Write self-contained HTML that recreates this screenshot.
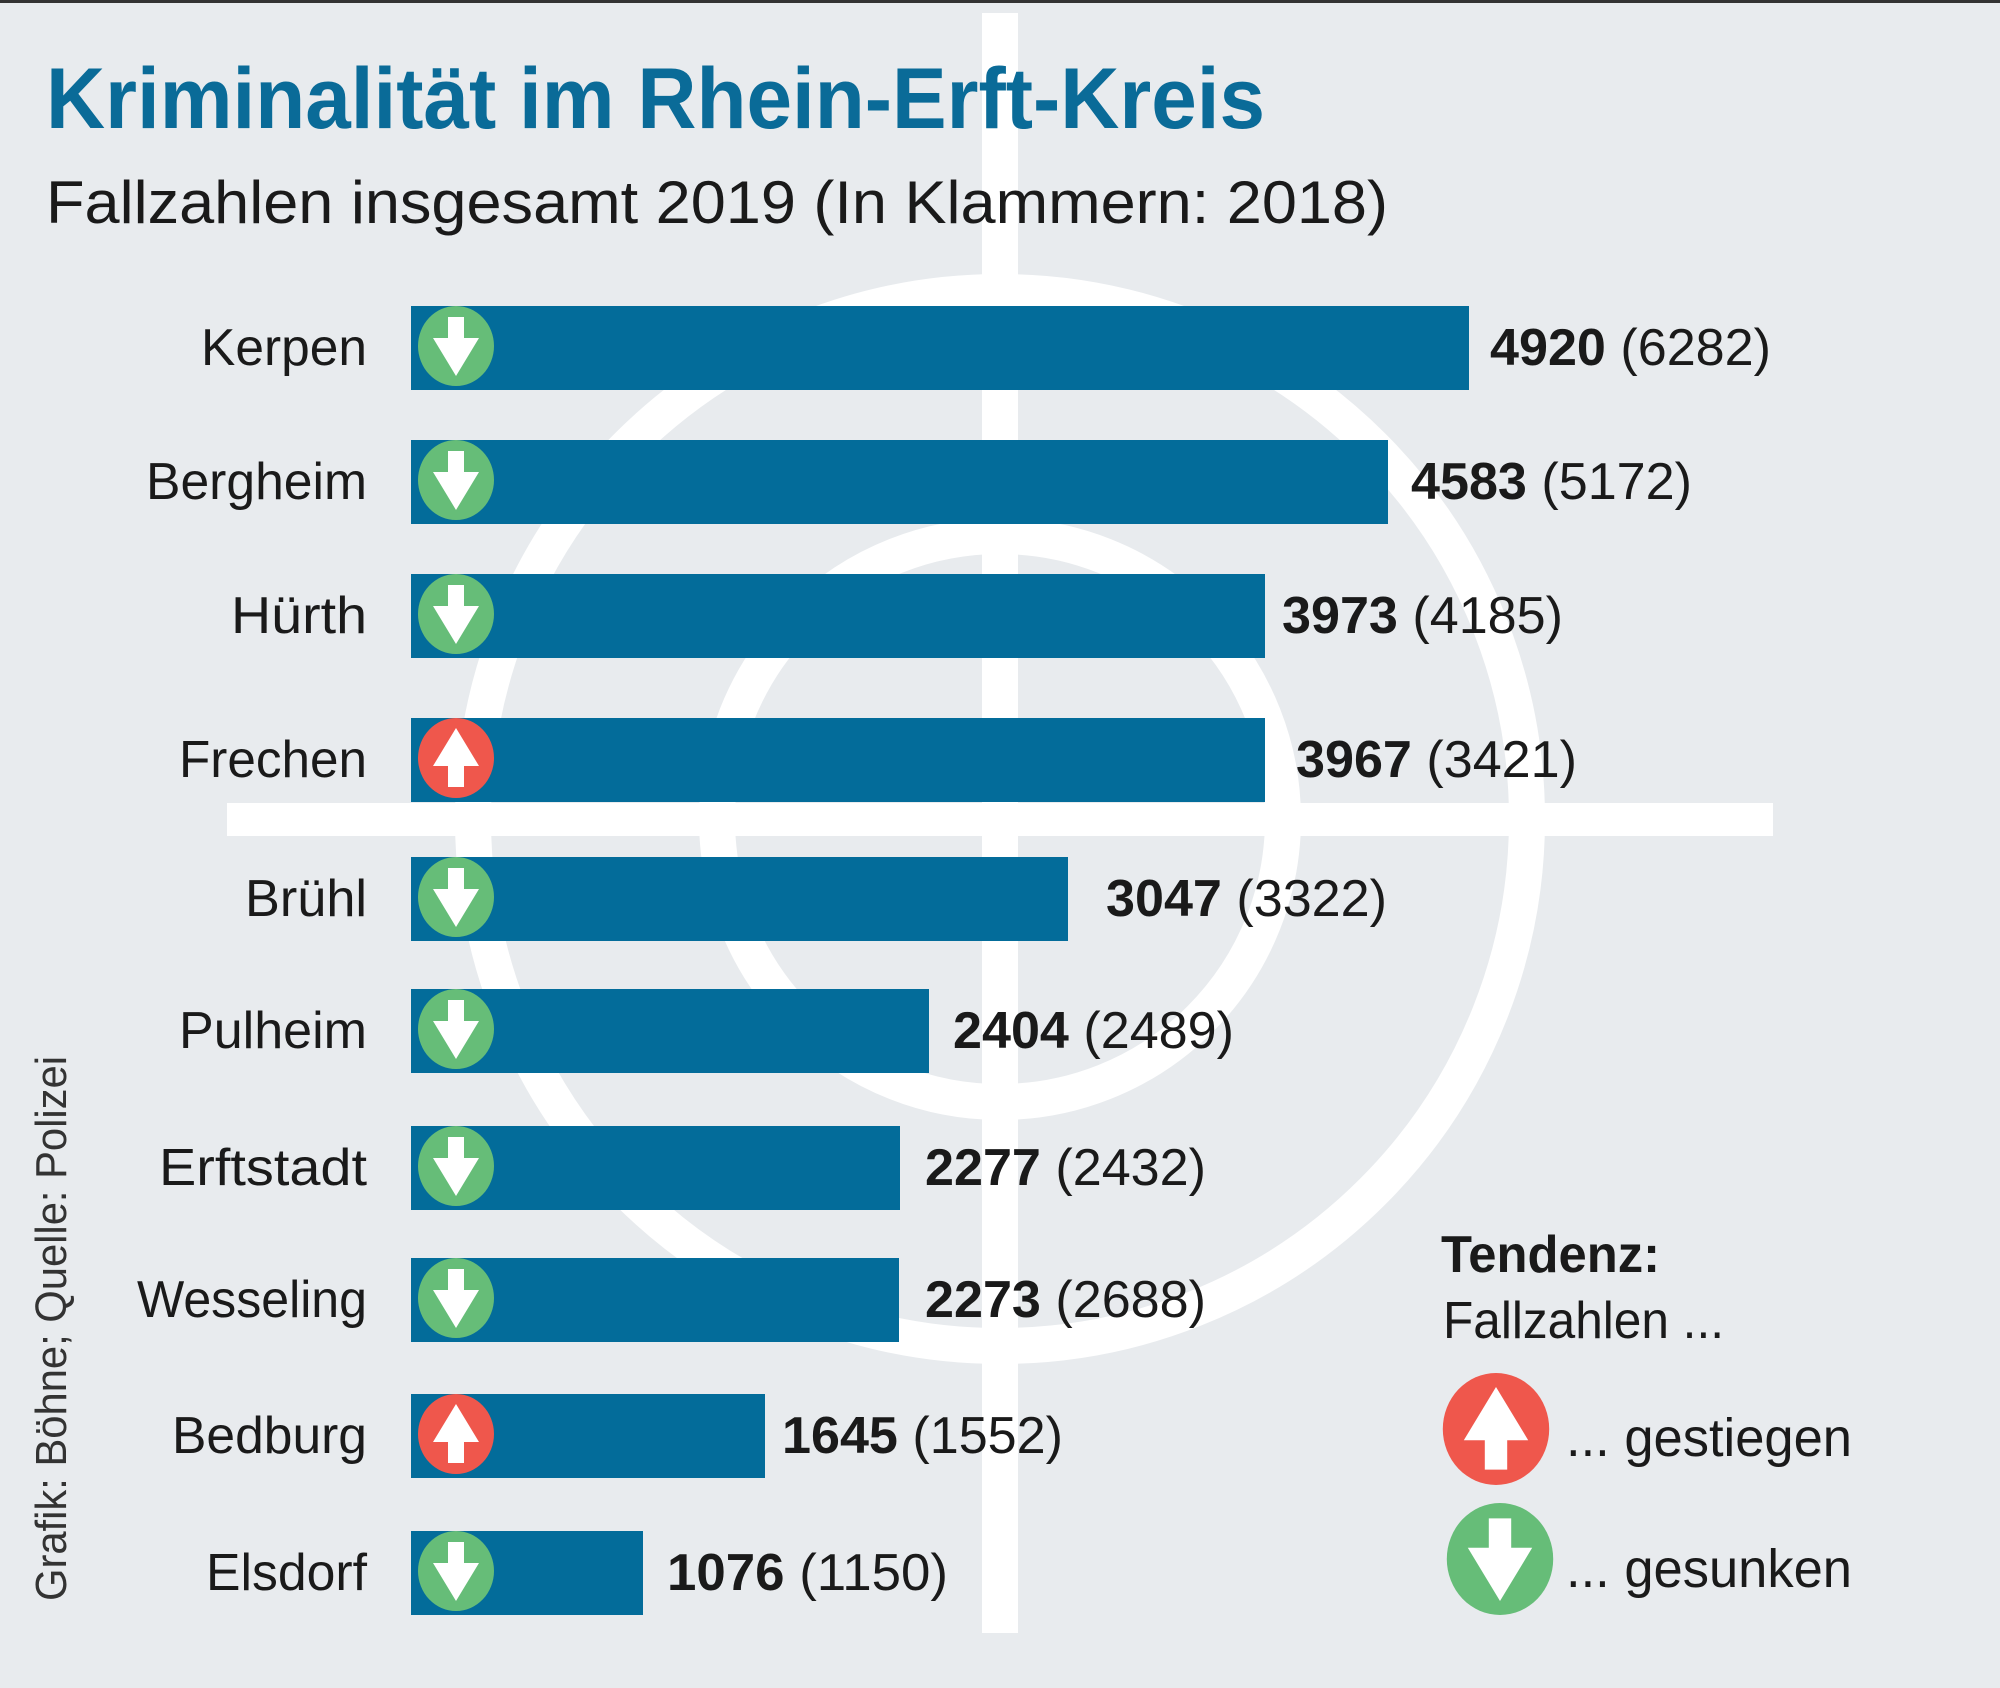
<!DOCTYPE html>
<html><head><meta charset="utf-8"><style>
html,body{margin:0;padding:0;background:#e8ebee}
svg{display:block}
text{font-family:"Liberation Sans",sans-serif}
</style></head><body>
<svg width="2000" height="1688" viewBox="0 0 2000 1688" xmlns="http://www.w3.org/2000/svg">
<defs>
<g id="dn"><ellipse cx="0" cy="0" rx="38" ry="40" fill="#66bd78"/><path d="M-8,-29 h16 v21 h15 L0,30 L-23,-8 h15 z" fill="#fff"/></g>
<g id="up"><ellipse cx="0" cy="0" rx="38" ry="40" fill="#ef574c"/><path d="M-8,29 h16 v-21 h15 L0,-30 L-23,8 h15 z" fill="#fff"/></g>
</defs>
<rect width="2000" height="1688" fill="#e8ebee"/>
<rect width="2000" height="3" fill="#333"/>
<!-- crosshair -->
<g fill="none" stroke="#fff" stroke-width="36">
<circle cx="1000" cy="819" r="527"/>
<circle cx="1000" cy="819" r="283"/>
</g>
<rect x="982" y="13" width="36" height="1620" fill="#fff"/>
<rect x="227" y="803" width="1546" height="33" fill="#fff"/>
<!-- title -->
<text x="46" y="128" font-size="86" font-weight="bold" fill="#0a6b98" textLength="1219" lengthAdjust="spacingAndGlyphs">Kriminalität im Rhein-Erft-Kreis</text>
<text x="46" y="223" font-size="60" fill="#1a1a1a" textLength="1342" lengthAdjust="spacingAndGlyphs">Fallzahlen insgesamt 2019 (In Klammern: 2018)</text>
<!-- bars -->
<g fill="#036c9a">
<rect x="411" y="306" width="1058" height="84"/>
<rect x="411" y="440" width="977" height="84"/>
<rect x="411" y="574" width="854" height="84"/>
<rect x="411" y="718" width="854" height="84"/>
<rect x="411" y="857" width="657" height="84"/>
<rect x="411" y="989" width="518" height="84"/>
<rect x="411" y="1126" width="489" height="84"/>
<rect x="411" y="1258" width="488" height="84"/>
<rect x="411" y="1394" width="354" height="84"/>
<rect x="411" y="1531" width="232" height="84"/>
</g>
<use href="#dn" x="456" y="346"/>
<use href="#dn" x="456" y="480"/>
<use href="#dn" x="456" y="614"/>
<use href="#up" x="456" y="758"/>
<use href="#dn" x="456" y="897"/>
<use href="#dn" x="456" y="1029"/>
<use href="#dn" x="456" y="1166"/>
<use href="#dn" x="456" y="1298"/>
<use href="#up" x="456" y="1434"/>
<use href="#dn" x="456" y="1571"/>
<!-- names -->
<g font-size="52" fill="#1a1a1a" text-anchor="end">
<text x="367" y="365" textLength="166" lengthAdjust="spacingAndGlyphs">Kerpen</text>
<text x="367" y="499" textLength="221" lengthAdjust="spacingAndGlyphs">Bergheim</text>
<text x="367" y="633" textLength="136" lengthAdjust="spacingAndGlyphs">Hürth</text>
<text x="367" y="777" textLength="188" lengthAdjust="spacingAndGlyphs">Frechen</text>
<text x="367" y="916" textLength="122" lengthAdjust="spacingAndGlyphs">Brühl</text>
<text x="367" y="1048" textLength="188" lengthAdjust="spacingAndGlyphs">Pulheim</text>
<text x="367" y="1185" textLength="208" lengthAdjust="spacingAndGlyphs">Erftstadt</text>
<text x="367" y="1317" textLength="230" lengthAdjust="spacingAndGlyphs">Wesseling</text>
<text x="367" y="1453" textLength="195" lengthAdjust="spacingAndGlyphs">Bedburg</text>
<text x="367" y="1590" textLength="161" lengthAdjust="spacingAndGlyphs">Elsdorf</text>
</g>
<!-- values -->
<g font-size="52" fill="#1a1a1a">
<text x="1490" y="365" textLength="281" lengthAdjust="spacingAndGlyphs"><tspan font-weight="bold">4920</tspan> (6282)</text>
<text x="1411" y="499" textLength="281" lengthAdjust="spacingAndGlyphs"><tspan font-weight="bold">4583</tspan> (5172)</text>
<text x="1282" y="633" textLength="281" lengthAdjust="spacingAndGlyphs"><tspan font-weight="bold">3973</tspan> (4185)</text>
<text x="1296" y="777" textLength="281" lengthAdjust="spacingAndGlyphs"><tspan font-weight="bold">3967</tspan> (3421)</text>
<text x="1106" y="916" textLength="281" lengthAdjust="spacingAndGlyphs"><tspan font-weight="bold">3047</tspan> (3322)</text>
<text x="953" y="1048" textLength="281" lengthAdjust="spacingAndGlyphs"><tspan font-weight="bold">2404</tspan> (2489)</text>
<text x="925" y="1185" textLength="281" lengthAdjust="spacingAndGlyphs"><tspan font-weight="bold">2277</tspan> (2432)</text>
<text x="925" y="1317" textLength="281" lengthAdjust="spacingAndGlyphs"><tspan font-weight="bold">2273</tspan> (2688)</text>
<text x="782" y="1453" textLength="281" lengthAdjust="spacingAndGlyphs"><tspan font-weight="bold">1645</tspan> (1552)</text>
<text x="667" y="1590" textLength="281" lengthAdjust="spacingAndGlyphs"><tspan font-weight="bold">1076</tspan> (1150)</text>
</g>
<!-- side credit -->
<text transform="translate(66,1601) rotate(-90)" font-size="44" fill="#333" textLength="545" lengthAdjust="spacingAndGlyphs">Grafik: Böhne; Quelle: Polizei</text>
<!-- legend -->
<text x="1441" y="1272" font-size="52" font-weight="bold" fill="#1a1a1a" textLength="219" lengthAdjust="spacingAndGlyphs">Tendenz:</text>
<text x="1443" y="1338" font-size="52" fill="#1a1a1a" textLength="281" lengthAdjust="spacingAndGlyphs">Fallzahlen ...</text>
<g transform="translate(1496,1429) scale(1.4)"><use href="#up"/></g>
<g transform="translate(1500,1559) scale(1.4)"><use href="#dn"/></g>
<text x="1566" y="1456" font-size="54" fill="#1a1a1a" textLength="286" lengthAdjust="spacingAndGlyphs">...  gestiegen</text>
<text x="1566" y="1587" font-size="54" fill="#1a1a1a" textLength="286" lengthAdjust="spacingAndGlyphs">...  gesunken</text>
</svg>
</body></html>
